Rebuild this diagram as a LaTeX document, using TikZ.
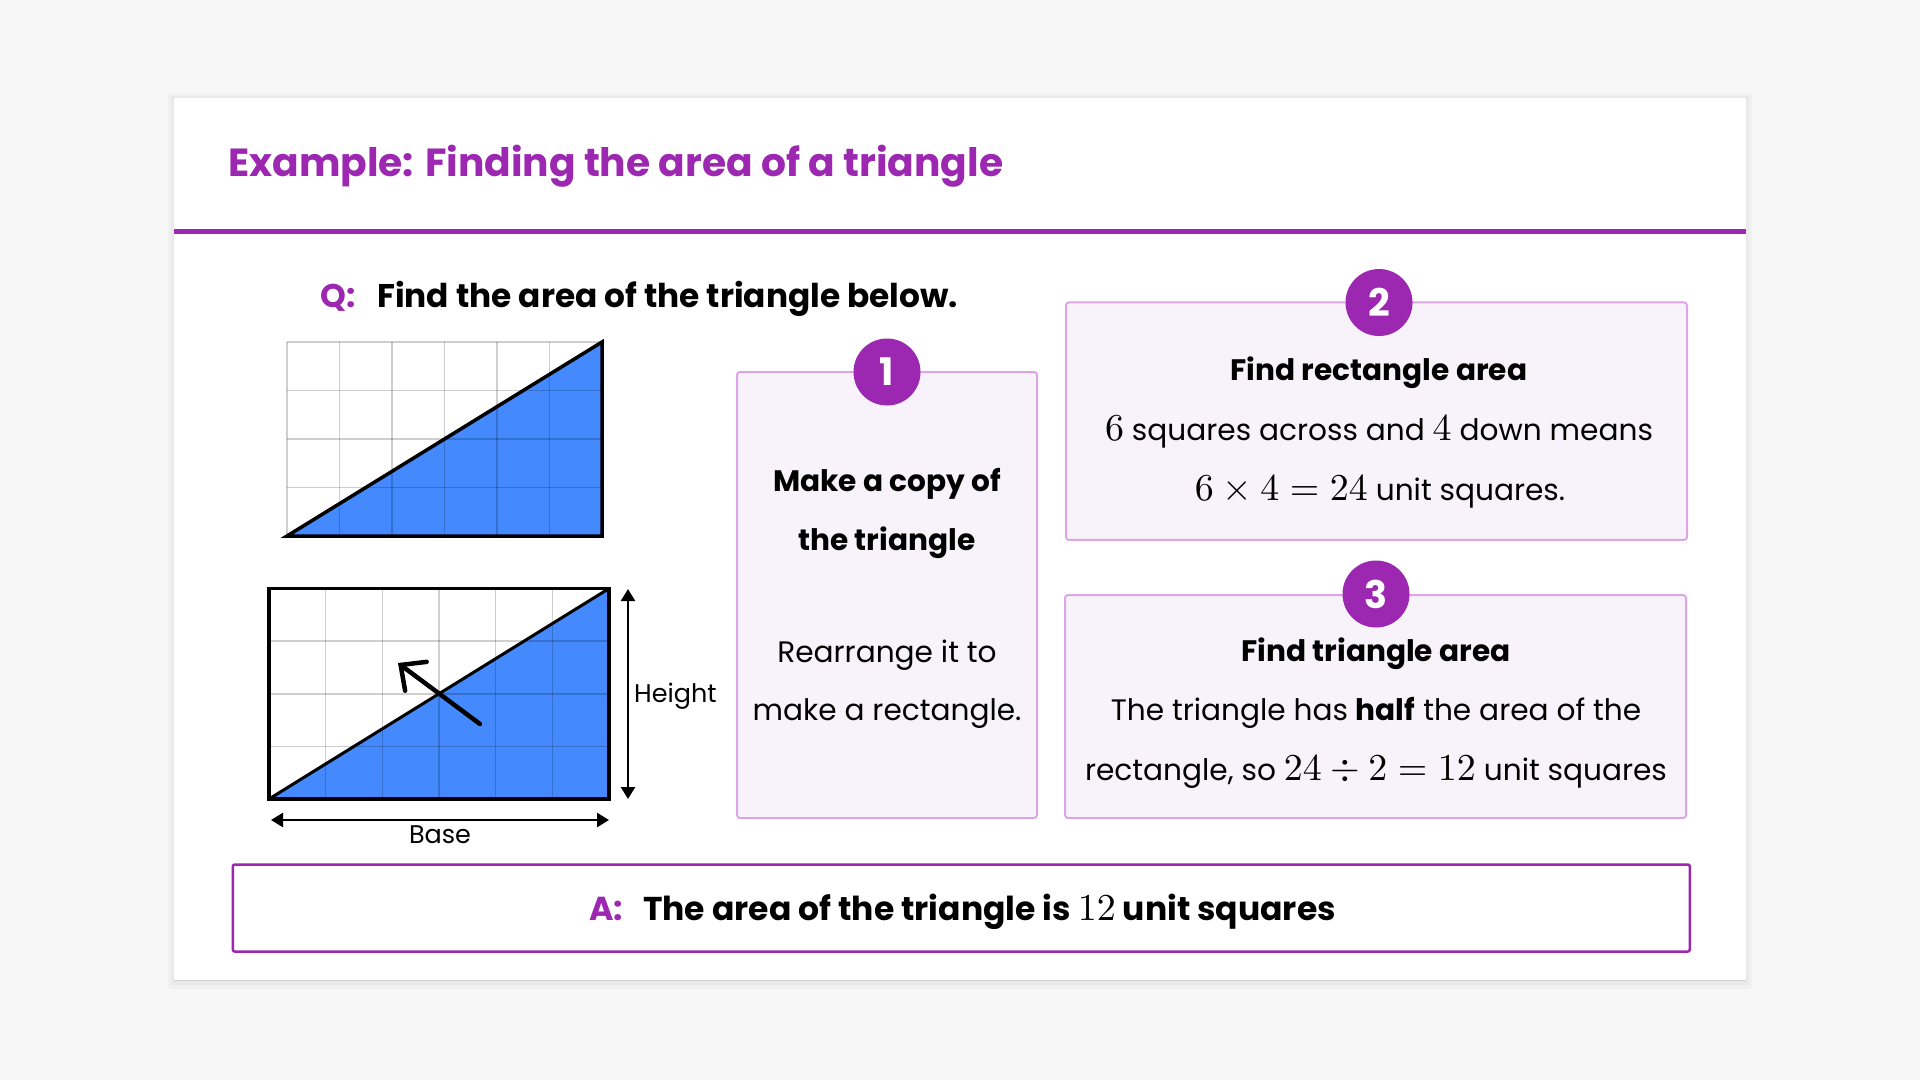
\RequirePackage{fix-cm}
\documentclass[tikz,border=0pt]{standalone}
\usepackage[no-math]{fontspec}
\setmainfont{Poppins}
\usetikzlibrary{arrows.meta}
\definecolor{pagebg}{HTML}{F7F7F7}
\definecolor{brand}{HTML}{9C27B0}
\definecolor{boxfill}{HTML}{F8F3FA}
\definecolor{boxline}{HTML}{DCA6E5}
\definecolor{tri}{HTML}{4589FF}
\newcommand{\fs}[1]{\fontsize{#1}{#1}\selectfont}
\newcommand{\mth}[1]{\scalebox{3.8}{\fontsize{10}{12}\selectfont$#1$}}
\tikzset{
  stepbox/.style={draw=boxline, fill=boxfill, line width=2pt, rounded corners=3pt, inner sep=0pt},
  numcirc/.style={circle, fill=brand, minimum size=67pt, inner sep=0pt, text=white, font=\fs{38}\bfseries},
  boxhead/.style={anchor=base, inner sep=0pt, font=\fs{29.6}\bfseries},
  boxtext/.style={anchor=base, inner sep=0pt, font=\fs{29.6}},
  gridline/.style={black, opacity=0.19, line width=1.5pt},
  outline/.style={black, line width=3.5pt},
  dimarrow/.style={black, line width=2.5pt, {Triangle[length=12pt,width=14pt]}-{Triangle[length=12pt,width=14pt]}},
}
\begin{document}
\begin{tikzpicture}[x=1pt,y=-1pt]
\fill[pagebg] (0,0) rectangle (1920,1080);
\useasboundingbox (0,0) rectangle (1920,1080);
% card with soft shadow
\fill[black, opacity=0.025] (168,94) rectangle (1752,989);
\fill[black, opacity=0.03] (171,96) rectangle (1749,985);
\fill[white] (174,98) rectangle (1746,981);
\draw[black!18, line width=1pt] (174,980.5) -- (1746,980.5);
\fill[brand] (174,229) rectangle (1746,234);
% title
\node[anchor=base west, inner sep=0pt, text=brand, font=\fs{39.2}\bfseries] (title) at (228,176) {Example: Finding the area of a triangle};
% question
\node[anchor=base west, inner sep=0pt, text=brand, font=\fs{32.8}\bfseries] (qlab) at (320,307.7) {Q:};
\node[anchor=base west, inner sep=0pt, font=\fs{32.8}\bfseries] (qtext) at (377,307.7) {Find the area of the triangle below.};
% triangle 1
\fill[tri] (287,536) -- (602,342) -- (602,536) -- cycle;
\foreach \i in {0,...,6} \draw[gridline] ({287+\i*52.5},342) -- ({287+\i*52.5},536);
\foreach \j in {0,...,4} \draw[gridline] (287,{342+\j*48.5}) -- (602,{342+\j*48.5});
\draw[outline, line join=miter] (287,536) -- (602,342) -- (602,536) -- cycle;
% rectangle figure
\fill[tri] (269,799) -- (609,588.5) -- (609,799) -- cycle;
\foreach \i in {0,...,6} \draw[gridline] ({269+\i*56.667},588.5) -- ({269+\i*56.667},799);
\foreach \j in {0,...,4} \draw[gridline] (269,{588.5+\j*52.625}) -- (609,{588.5+\j*52.625});
\draw[black, line width=3pt] (269,799) -- (609,588.5);
\draw[outline] (269,588.5) rectangle (609,799);
\coordinate (mvtail) at (480,724);
\coordinate (mvtip) at (398,663);
\draw[black, line width=4.5pt, line cap=round, -{Straight Barb[length=19pt,width=36pt,line cap=round]}] (mvtail) -- (mvtip);
\coordinate (htop) at (628,589);
\coordinate (hbot) at (628,799);
\draw[dimarrow] (htop) -- (hbot);
\node[anchor=base west, inner sep=0pt, font=\fs{25.5}] (hlab) at (634,702.7) {Height};
\coordinate (bleft) at (271,820);
\coordinate (bright) at (609,820);
\draw[dimarrow] (bleft) -- (bright);
\node[anchor=base, inner sep=0pt, font=\fs{25.5}] (blab) at (440,843.5) {Base};
% box 1
\node[stepbox, minimum width=300pt, minimum height=446pt] (b1) at (887,595) {};
\node[numcirc] (c1) at (887,372) {1};
\node[boxhead] (b1h1) at (887,491.7) {Make a copy of};
\node[boxhead] (b1h2) at (887,550) {the triangle};
\node[boxtext] (b1t1) at (887,662) {Rearrange it to};
\node[boxtext] (b1t2) at (887,720.5) {make a rectangle.};
% box 2
\node[stepbox, minimum width=621pt, minimum height=237.5pt] (b2) at (1376.5,421.2) {};
\node[numcirc] (c2) at (1379,302.5) {2};
\node[boxhead] (b2h) at (1379,380.7) {Find rectangle area};
\node[boxtext] (b2t1) at (1379,440) {\mth{6} squares across and \mth{4} down means};
\node[boxtext] (b2t2) at (1380,500.5) {\mth{6\times4=24} unit squares.};
% box 3
\node[stepbox, minimum width=621pt, minimum height=223pt] (b3) at (1375.5,706.6) {};
\node[numcirc] (c3) at (1376,594) {3};
\node[boxhead] (b3h) at (1376,661) {Find triangle area};
\node[boxtext] (b3t1) at (1376,720) {The triangle has \textbf{half} the area of the};
\node[boxtext] (b3t2) at (1376,780) {rectangle, so \mth{24\div2=12} unit squares};
% answer
\node[draw=brand, fill=white, line width=2.5pt, rounded corners=2pt, minimum width=1457pt, minimum height=87pt, inner sep=0pt] (ans) at (961.3,908) {};
\node[anchor=base west, inner sep=0pt, text=brand, font=\fs{33.2}\bfseries] (alab) at (589,920) {A:};
\node[anchor=base west, inner sep=0pt, font=\fs{33}\bfseries] (atext) at (643,920) {The area of the triangle is \mth{12} unit squares};
\end{tikzpicture}
\end{document}
